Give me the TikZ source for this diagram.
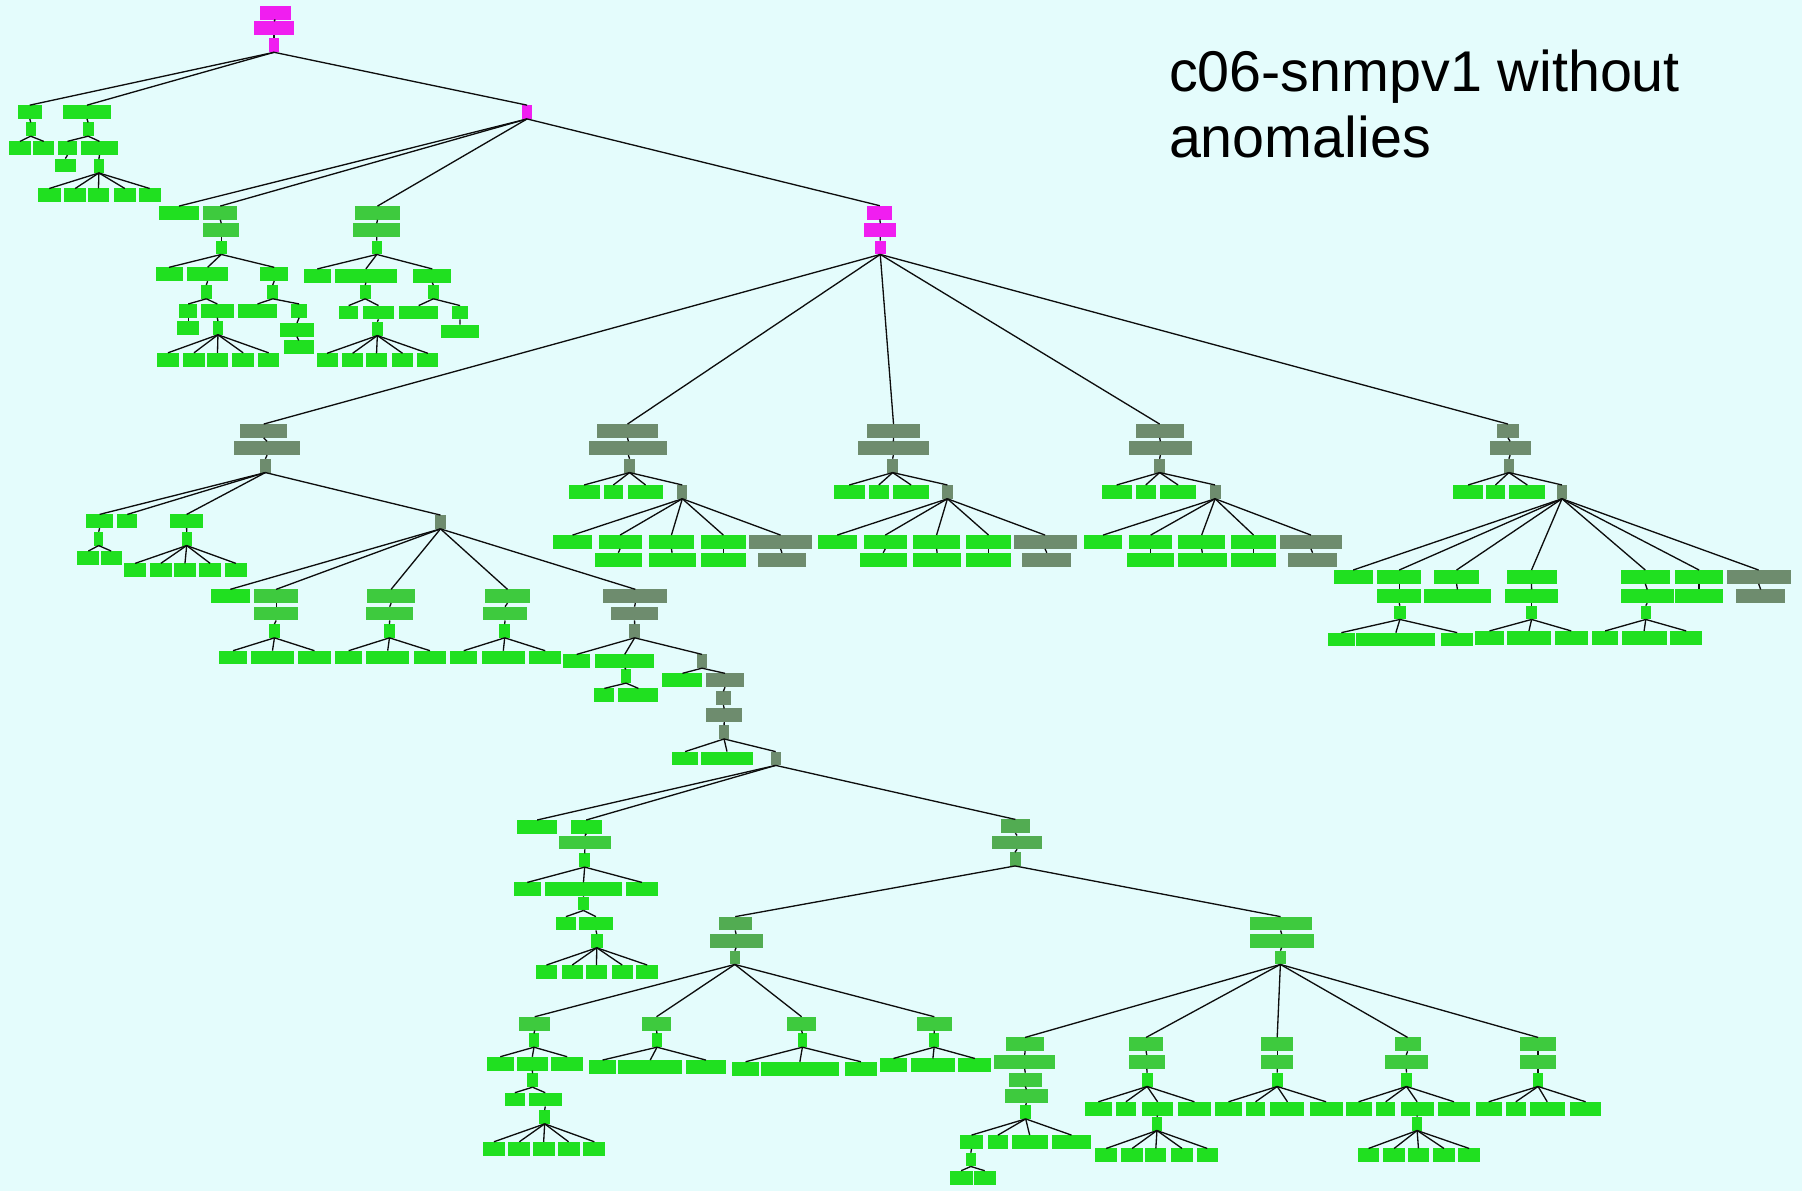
\documentclass[tikz,border=0pt]{standalone}
\usepackage{fontspec}
\setmainfont{Liberation Sans}
\definecolor{bgc}{RGB}{228,252,252}
\definecolor{cgb}{RGB}{32,224,32}
\definecolor{cgs}{RGB}{62,202,62}
\definecolor{cdk}{RGB}{110,140,110}
\definecolor{cmg}{RGB}{82,172,82}
\definecolor{cmag}{RGB}{240,30,240}
\tikzset{
  box/.style={rectangle,draw=none,inner sep=0pt,outer sep=0pt,minimum height=12pt},
  gb/.style={fill=cgb},
  gs/.style={fill=cgs},
  dk/.style={fill=cdk},
  mg/.style={fill=cmg},
  mag/.style={fill=cmag},
  edge/.style={draw=black!95,line width=1.15pt},
  title/.style={inner sep=0pt,font=\fontsize{50}{57}\selectfont}
}
% \bx{style}{name}{left}{right}{top}
\newcommand\bx[5]{%
  \pgfmathsetmacro\bxw{#4-#3}%
  \pgfmathsetmacro\bxc{(#3+#4)/2}%
  \pgfmathsetmacro\bxy{#5+6}%
  \node[box,#1,minimum width=\bxw pt] (#2) at (\bxc,\bxy) {};}
% a row of boxes named prefix1, prefix2, ...
\newcommand\row[4]{\foreach \xa/\xb [count=\ii] in {#4}{\bx{#1}{#2\ii}{\xa}{\xb}{#3}}}
% connectors from the bottom of a parent to the top of each child
\newcommand\fan[2]{\foreach \cc in {#2}{\draw[edge] (#1.south) -- (\cc.north);}}
\begin{document}
\begin{tikzpicture}[x=1pt,y=-1pt]
\fill[bgc] (0,0) rectangle (1568,1036);
\useasboundingbox (0,0) rectangle (1568,1036);

\node[title,anchor=base west] (tl1) at (1017,80) {c06-snmpv1 without};
\node[title,anchor=base west] (tl2) at (1017,137) {anomalies};

% ---- root
\bx{mag}{r1}{226}{253}{5}
\bx{mag}{r2}{221}{256}{18.5}
\bx{mag}{r3}{234}{243}{33.5}
\bx{gb}{a1}{15.5}{36.4}{91.5}
\bx{gb}{a2}{54.4}{97}{91.5}
\bx{mag}{m1}{454.3}{463}{91.5}

% ---- small left branch
\bx{gb}{a1s}{22.4}{31}{106.5}
\row{gb}{a1c}{123}{7.5/27.3,28.9/47.2}
\bx{gb}{a2s}{72}{81.4}{106.5}
\row{gb}{a2c}{123}{50.6/66.8,70.2/102.9}
\bx{gb}{a2d}{47.5}{66.2}{138}
\bx{gb}{a2e}{81.4}{90.7}{138.5}
\row{gb}{a2f}{164}{33/52.8,56/74.9,76.4/95,98.8/118.4,120.6/139.8}

% ---- branch b2
\bx{gb}{b1}{138.4}{173.2}{179.3}
\bx{gs}{b2}{176.9}{206.5}{179.3}
\bx{gs}{b2a}{176.9}{208.2}{194.3}
\bx{gb}{b2b}{187.9}{197.2}{209.4}
\row{gb}{c}{232.6}{135.4/158.9,162.7/198.6,226.3/250.9}
\bx{gb}{c2s}{174.9}{184.2}{248}
\bx{gb}{c3s}{232.4}{242.2}{248}
\row{gb}{cx}{264.5}{156/171.7,174.9/203.3,206.8/241.3,253.2/267.4}
\bx{gb}{cx1d}{154.3}{173.4}{279.3}
\bx{gb}{cx2d}{185}{194.3}{279.3}
\bx{gb}{cx4d}{243.6}{273.2}{281}
\bx{gb}{cx4e}{247}{273}{296.2}
\row{gb}{cy}{307}{136.9/155.4,159.2/178.4,179.9/198.6,202.2/221,224.4/243.1}

% ---- branch b3
\bx{gs}{b3}{308.9}{348.1}{179.3}
\bx{gs}{b3a}{307.5}{348.1}{194.3}
\bx{gb}{b3b}{323.4}{332.4}{209.4}
\row{gb}{d}{234}{264.2/288,291.5/345.2,359.7/392.6}
\bx{gb}{d2s}{313.2}{322.5}{248}
\bx{gb}{d3s}{372.4}{381.7}{248}
\row{gb}{dx}{265.9}{295/311.8,315.6/343.1,347.2/381.4,393.6/407}
\bx{gb}{dx2d}{323.7}{333}{280}
\bx{gb}{dx4d}{383.7}{416.8}{282.5}
\row{gb}{dy}{307.4}{275.5/293.8,297.6/316.1,318.5/336.8,341.1/359.4,363.2/381.4}

% ---- main hub
\bx{mag}{m2a}{754.7}{776.5}{179}
\bx{mag}{m2b}{752.1}{779.9}{194.3}
\bx{mag}{m2c}{761.3}{770.6}{209.4}

% ---- group 1
\bx{dk}{g1a}{208.9}{250}{369}
\bx{dk}{g1b}{203.7}{261.1}{384}
\bx{dk}{g1c}{226.3}{235.6}{399.2}
\row{gb}{j}{447.6}{74.8/98.6,102.1/119.5,147.9/176.9}
\bx{dk}{g1d}{378.5}{388.1}{448.2}
\bx{gb}{j1s}{81.8}{89.9}{462.7}
\row{gb}{j1c}{479.5}{67.3/86.4,87.6/105.9}
\bx{gb}{j3s}{158.1}{166.8}{462.7}
\row{gb}{j3c}{490.2}{108.2/127,130.5/149.4,151.4/170.5,173.4/192.3,195.8/214.6}
\bx{gb}{k1}{183.3}{217.5}{512.8}
\bx{gs}{k2a}{221}{259.6}{512.8}
\bx{gs}{k2b}{221}{259.6}{527.9}
\bx{gb}{k2c}{234}{243.6}{543}
\row{gb}{k2d}{566.2}{190.9/214.6,218.1/256.1,259.6/287.7}
\bx{gs}{k3a}{319.6}{361.1}{512.8}
\bx{gs}{k3b}{318.5}{359.7}{527.9}
\bx{gb}{k3c}{334.1}{343.7}{543}
\row{gb}{k3d}{566.2}{291.5/315.3,318.5/356.2,360.2/388.1}
\bx{gs}{k4a}{422}{461.2}{512.8}
\bx{gs}{k4b}{420.6}{458.3}{527.9}
\bx{gb}{k4c}{434.5}{443.8}{543}
\row{gb}{k4d}{566.2}{391.6/415.4,419.1/456.8,460.6/488.2}
\bx{dk}{k5a}{525}{580.7}{512.8}
\bx{dk}{k5b}{531.4}{572.9}{527.9}
\bx{dk}{k5c}{547.6}{556.9}{543}
\bx{gb}{l1}{490.2}{513.4}{569.4}
\bx{gb}{l2}{517.8}{569.4}{569.4}
\bx{dk}{l3}{606.2}{615.5}{569.4}
\bx{gb}{l2s}{540.4}{549.1}{582.4}
\row{gb}{l2c}{599}{517.2/534.6,538.1/572.9}
\bx{gb}{l3x}{576.4}{611.2}{585.9}
\bx{dk}{l3y}{614.3}{647.4}{585.9}
\bx{dk}{l4}{622.8}{636.1}{601.5}
\bx{dk}{l5}{614.3}{646}{616.4}
\bx{dk}{l6}{625.7}{634.4}{631}
\bx{gb}{l6x}{584.5}{607.7}{654}
\bx{gb}{l6y}{609.7}{655.5}{654}
\bx{dk}{l7}{670.6}{679.3}{654}

% ---- lower left branch
\bx{gb}{n1}{450}{484.8}{713.5}
\bx{gb}{n2a}{496.6}{523.7}{713.5}
\bx{gs}{n2b}{486.4}{531.4}{727.1}
\bx{gb}{n2c}{504.1}{513.4}{742.5}
\row{gb}{n2d}{767.8}{446.9/470.8,474.6/540.8,544.5/572.5}
\bx{gb}{n2e}{502.8}{512.8}{780.2}
\row{gb}{n2f}{797.6}{483.9/501,504.1/533}
\bx{gb}{n2g}{514.3}{524.3}{812.7}
\row{gb}{n2h}{839.7}{466.2/484.8,488.6/507.2,509.7/528.3,532.1/550.7,553.8/572.5}

% ---- lower hub
\bx{mg}{p0a}{871}{896}{713}
\bx{mg}{p0b}{863}{907}{727}
\bx{mg}{p0c}{878.4}{888}{741.5}
\bx{mg}{p1a}{625.3}{654.2}{797.6}
\bx{mg}{p1b}{617.5}{663.5}{812.7}
\bx{mg}{p1c}{634.9}{643.9}{827.2}
\bx{gs}{q1a}{1087.4}{1141.2}{797.6}
\bx{gs}{q1b}{1087.4}{1143}{812.7}
\bx{gs}{q1c}{1109}{1119.2}{827.2}

\row{gs}{s}{884.7}{451.6/479,558.8/583.7,684.6/710.4,797.5/828.5}
\bx{gb}{s1s}{460}{469.3}{899.2}
\row{gb}{s1c}{919.5}{423.6/447,450/476.4,479.5/507.5}
\bx{gb}{s1d}{458.7}{468.1}{934}
\row{gb}{s1e}{950.8}{439.1/456.9,460/488.9}
\bx{gb}{s1f}{469.3}{478.6}{965.9}
\row{gb}{s1g}{993.5}{420.5/439.1,442.3/461.5,463.4/482.7,485.1/504.4,507.5/526.8}
\bx{gb}{s2s}{567.5}{575.9}{899.2}
\row{gb}{s2c}{922.4}{512.2/536.4,538/593.6,596.7/631.8}
\bx{gb}{s3s}{694}{702.4}{899.2}
\row{gb}{s3c}{923.9}{637.1/660.4,662.3/729.7,735/763.3}
\bx{gb}{s4s}{808.3}{817.3}{899.2}
\row{gb}{s4c}{921}{765.5/789.4,792.8/830.7,833.8/862.7}

\bx{gs}{t1a}{875.4}{908.6}{902.7}
\bx{gs}{t1b}{865.2}{918}{918}
\bx{gs}{t1c}{877.6}{906.7}{933.4}
\bx{gs}{t1d}{874.6}{911.6}{947.9}
\bx{gb}{t1e}{887.8}{897.2}{961.6}
\row{gb}{t1f}{987.7}{835/855.7,859.5/877.2,880.3/911.6,915.4/949.3}
\bx{gb}{t1g}{840.6}{848.9}{1003}
\row{gb}{t1h}{1018.7}{826.3/846.3,847.4/866.3}
\bx{gs}{t2a}{982.2}{1012.3}{902.7}
\bx{gs}{t2b}{982.2}{1013.5}{918}
\bx{gb}{t2c}{993.5}{1002.9}{933.4}
\row{gb}{t2d}{958.7}{943.7/967.8,970.8/988.6,993.5/1021,1024.8/1053.8}
\bx{gb}{t2e}{1002.2}{1011.2}{971.7}
\row{gb}{t2f}{999.3}{953.1/972,975.7/994.6,996.5/1015,1019.1/1038,1041.4/1059.5}
\bx{gs}{t3a}{1097.2}{1125.5}{902.7}
\bx{gs}{t3b}{1097.2}{1125.5}{918}
\bx{gb}{t3c}{1106.7}{1116.1}{933.4}
\row{gb}{t3d}{958.7}{1057.6/1080.3,1084/1101,1105.5/1135,1139.5/1168.2}
\bx{gs}{t4a}{1213.5}{1236.1}{902.7}
\bx{gs}{t4b}{1204.8}{1242.5}{918}
\bx{gb}{t4c}{1219.1}{1228.6}{933.4}
\row{gb}{t4d}{958.7}{1170.8/1193.5,1197.3/1214.2,1218.8/1247.4,1251.2/1279.2}
\bx{gb}{t4e}{1228.6}{1237.6}{971.7}
\row{gb}{t4f}{999.3}{1181.4/1200.3,1203.7/1222.5,1224.8/1243.7,1247/1265.9,1268.9/1287.8}
\bx{gs}{t5a}{1322.9}{1353.8}{902.7}
\bx{gs}{t5b}{1322.9}{1353.8}{918}
\bx{gb}{t5c}{1334.2}{1342.5}{933.4}
\row{gb}{t5d}{958.7}{1284/1306.7,1310.5/1327.4,1331.2/1361.4,1365.9/1393.5}

% ---- group 2
\bx{dk}{g2a}{519.3}{572.7}{369}
\bx{dk}{g2b}{512.8}{580.8}{384}
\bx{dk}{g2c}{543.3}{552.3}{399.2}
\row{gb}{g2e}{422}{494.8/521.7,525.3/542.1,546.3/577.2}
\bx{dk}{g2d}{589.2}{598.2}{422}
\row{gb}{e}{465.6}{481/515.4,520.8/558.3,564.3/604.2,610.1/648.8}
\bx{dk}{e5}{651.8}{706.6}{465.6}
\bx{gb}{e2b}{517.8}{558.3}{481}
\bx{gb}{e3b}{564.3}{605.3}{481}
\bx{gb}{e4b}{610.1}{648.8}{481}
\bx{dk}{e5b}{659.3}{701.5}{481}

% ---- group 3
\bx{dk}{g3a}{754.6}{800.4}{369}
\bx{dk}{g3b}{746.2}{808.5}{384}
\bx{dk}{g3c}{772}{781.5}{399.2}
\row{gb}{g3e}{422}{725.5/752.5,756.1/773.2,777.1/808.5}
\bx{dk}{g3d}{819.9}{828.9}{422}
\row{gb}{f}{465.6}{711.4/745.6,751.6/789,794.4/835.5,840.6/879.8}
\bx{dk}{f5}{881.9}{936.8}{465.6}
\bx{gb}{f2b}{748}{789}{481}
\bx{gb}{f3b}{794.4}{836.5}{481}
\bx{gb}{f4b}{840.6}{879.8}{481}
\bx{dk}{f5b}{889.4}{932.3}{481}

% ---- group 4
\bx{dk}{g4a}{988.1}{1030}{369}
\bx{dk}{g4b}{982}{1037.4}{384}
\bx{dk}{g4c}{1004.5}{1013.6}{399.2}
\row{gb}{g4e}{422}{958.5/984.8,988.1/1005.8,1009.5/1040.7}
\bx{dk}{g4d}{1052.6}{1062}{422}
\row{gb}{u}{465.6}{943/976.6,982.8/1019.7,1025.1/1066.1,1071.1/1110.5}
\bx{dk}{u5}{1113.4}{1168}{465.6}
\bx{gb}{u2b}{980.7}{1021.8}{481}
\bx{gb}{u3b}{1025.1}{1067.3}{481}
\bx{gb}{u4b}{1071.1}{1110.5}{481}
\bx{dk}{u5b}{1120.8}{1163.5}{481}

% ---- group 5
\bx{dk}{g5a}{1302.3}{1322}{369}
\bx{dk}{g5b}{1296.1}{1331.9}{384}
\bx{dk}{g5c}{1308.4}{1317.5}{399.2}
\row{gb}{g5e}{422}{1264.1/1290.8,1292.8/1309.7,1313.4/1344.6}
\bx{dk}{g5d}{1354.4}{1363.9}{422}
\row{gb}{h}{496}{1160.6/1194.3,1198.4/1236.6,1247.7/1287.1,1310.9/1354.4,1410.3/1453,1457.5/1499.4}
\bx{dk}{h7}{1502.3}{1558.2}{496}
\bx{gb}{h2b}{1198.4}{1236.6}{512.9}
\bx{gb}{h3b}{1239.4}{1297}{512.9}
\bx{gb}{h4b}{1309.7}{1355.7}{512.9}
\bx{gb}{h5b}{1410.3}{1456.3}{512.9}
\bx{gb}{h6b}{1457.5}{1499.4}{512.9}
\bx{dk}{h7b}{1510.5}{1553.6}{512.9}
\bx{gb}{h2c}{1213.2}{1223}{527}
\bx{gb}{h4c}{1328.2}{1337.2}{527}
\bx{gb}{h5c}{1427.5}{1436.6}{527}
\row{gb}{h2d}{550.5}{1155.3/1179,1180.3/1248.9,1254.2/1281.7}
\row{gb}{h4d}{549}{1283.8/1308.4,1311.3/1349.5,1352.8/1381.5}
\row{gb}{h5d}{549}{1385.2/1408.2,1411.1/1450.1,1453.4/1481}

% ================= connectors
\fan{r1}{r2}\fan{r2}{r3}\fan{r3}{a1,a2,m1}
\fan{a1}{a1s}\fan{a1s}{a1c1,a1c2}
\fan{a2}{a2s}\fan{a2s}{a2c1,a2c2}\fan{a2c1}{a2d}\fan{a2c2}{a2e}
\fan{a2e}{a2f1,a2f2,a2f3,a2f4,a2f5}

\fan{m1}{b1,b2,b3,m2a}
\fan{b2}{b2a}\fan{b2a}{b2b}\fan{b2b}{c1,c2,c3}
\fan{c2}{c2s}\fan{c3}{c3s}\fan{c2s}{cx1,cx2}\fan{c3s}{cx3,cx4}
\fan{cx1}{cx1d}\fan{cx2}{cx2d}\fan{cx4}{cx4d}\fan{cx4d}{cx4e}
\fan{cx2d}{cy1,cy2,cy3,cy4,cy5}
\fan{b3}{b3a}\fan{b3a}{b3b}\fan{b3b}{d1,d2,d3}
\fan{d2}{d2s}\fan{d3}{d3s}\fan{d2s}{dx1,dx2}\fan{d3s}{dx3,dx4}
\fan{dx2}{dx2d}\fan{dx4}{dx4d}
\fan{dx2d}{dy1,dy2,dy3,dy4,dy5}

\fan{m2a}{m2b}\fan{m2b}{m2c}\fan{m2c}{g1a,g2a,g3a,g4a,g5a}

\fan{g1a}{g1b}\fan{g1b}{g1c}\fan{g1c}{j1,j2,j3,g1d}
\fan{j1}{j1s}\fan{j1s}{j1c1,j1c2}
\fan{j3}{j3s}\fan{j3s}{j3c1,j3c2,j3c3,j3c4,j3c5}
\fan{g1d}{k1,k2a,k3a,k4a,k5a}
\fan{k2a}{k2b}\fan{k2b}{k2c}\fan{k2c}{k2d1,k2d2,k2d3}
\fan{k3a}{k3b}\fan{k3b}{k3c}\fan{k3c}{k3d1,k3d2,k3d3}
\fan{k4a}{k4b}\fan{k4b}{k4c}\fan{k4c}{k4d1,k4d2,k4d3}
\fan{k5a}{k5b}\fan{k5b}{k5c}\fan{k5c}{l1,l2,l3}
\fan{l2}{l2s}\fan{l2s}{l2c1,l2c2}
\fan{l3}{l3x,l3y}\fan{l3y}{l4}\fan{l4}{l5}\fan{l5}{l6}
\fan{l6}{l6x,l6y,l7}
\fan{l7}{n1,n2a,p0a}
\fan{n2a}{n2b}\fan{n2b}{n2c}\fan{n2c}{n2d1,n2d2,n2d3}
\fan{n2d2}{n2e}\fan{n2e}{n2f1,n2f2}\fan{n2f2}{n2g}
\fan{n2g}{n2h1,n2h2,n2h3,n2h4,n2h5}

\fan{p0a}{p0b}\fan{p0b}{p0c}\fan{p0c}{p1a,q1a}
\fan{p1a}{p1b}\fan{p1b}{p1c}\fan{p1c}{s1,s2,s3,s4}
\fan{s1}{s1s}\fan{s1s}{s1c1,s1c2,s1c3}\fan{s1c2}{s1d}\fan{s1d}{s1e1,s1e2}
\fan{s1e2}{s1f}\fan{s1f}{s1g1,s1g2,s1g3,s1g4,s1g5}
\fan{s2}{s2s}\fan{s2s}{s2c1,s2c2,s2c3}
\fan{s3}{s3s}\fan{s3s}{s3c1,s3c2,s3c3}
\fan{s4}{s4s}\fan{s4s}{s4c1,s4c2,s4c3}
\fan{q1a}{q1b}\fan{q1b}{q1c}\fan{q1c}{t1a,t2a,t3a,t4a,t5a}
\fan{t1a}{t1b}\fan{t1b}{t1c}\fan{t1c}{t1d}\fan{t1d}{t1e}
\fan{t1e}{t1f1,t1f2,t1f3,t1f4}\fan{t1f1}{t1g}\fan{t1g}{t1h1,t1h2}
\fan{t2a}{t2b}\fan{t2b}{t2c}\fan{t2c}{t2d1,t2d2,t2d3,t2d4}
\fan{t2d3}{t2e}\fan{t2e}{t2f1,t2f2,t2f3,t2f4,t2f5}
\fan{t3a}{t3b}\fan{t3b}{t3c}\fan{t3c}{t3d1,t3d2,t3d3,t3d4}
\fan{t4a}{t4b}\fan{t4b}{t4c}\fan{t4c}{t4d1,t4d2,t4d3,t4d4}
\fan{t4d3}{t4e}\fan{t4e}{t4f1,t4f2,t4f3,t4f4,t4f5}
\fan{t5a}{t5b}\fan{t5b}{t5c}\fan{t5c}{t5d1,t5d2,t5d3,t5d4}

\fan{g2a}{g2b}\fan{g2b}{g2c}\fan{g2c}{g2e1,g2e2,g2e3,g2d}
\fan{g2d}{e1,e2,e3,e4,e5}
\fan{e2}{e2b}\fan{e3}{e3b}\fan{e4}{e4b}\fan{e5}{e5b}
\fan{g3a}{g3b}\fan{g3b}{g3c}\fan{g3c}{g3e1,g3e2,g3e3,g3d}
\fan{g3d}{f1,f2,f3,f4,f5}
\fan{f2}{f2b}\fan{f3}{f3b}\fan{f4}{f4b}\fan{f5}{f5b}
\fan{g4a}{g4b}\fan{g4b}{g4c}\fan{g4c}{g4e1,g4e2,g4e3,g4d}
\fan{g4d}{u1,u2,u3,u4,u5}
\fan{u2}{u2b}\fan{u3}{u3b}\fan{u4}{u4b}\fan{u5}{u5b}
\fan{g5a}{g5b}\fan{g5b}{g5c}\fan{g5c}{g5e1,g5e2,g5e3,g5d}
\fan{g5d}{h1,h2,h3,h4,h5,h6,h7}
\fan{h2}{h2b}\fan{h3}{h3b}\fan{h4}{h4b}\fan{h5}{h5b}\fan{h6}{h6b}\fan{h7}{h7b}
\fan{h2b}{h2c}\fan{h4b}{h4c}\fan{h5b}{h5c}
\fan{h2c}{h2d1,h2d2,h2d3}
\fan{h4c}{h4d1,h4d2,h4d3}
\fan{h5c}{h5d1,h5d2,h5d3}
\end{tikzpicture}
\end{document}
